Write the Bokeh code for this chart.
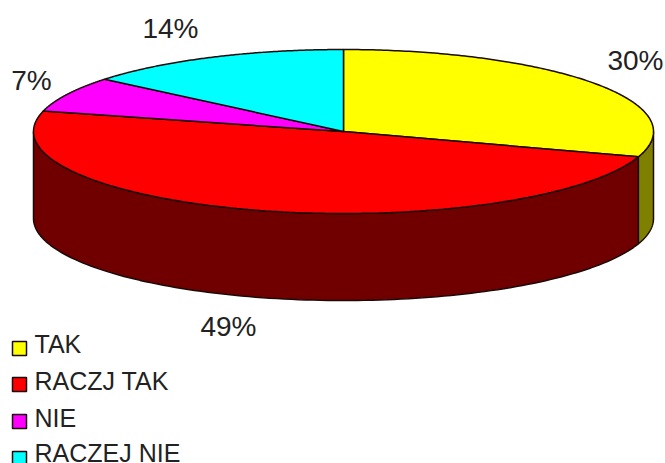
import numpy as np
from bokeh.plotting import figure
from bokeh.models import Range1d
from bokeh.core.properties import value
from bokeh.embed import file_html
from bokeh.resources import INLINE

categories = ["TAK", "RACZJ TAK", "NIE", "RACZEJ NIE"]
percents = [30, 49, 7, 14]
colors = ["#ffff00", "#ff0000", "#ff00ff", "#00ffff"]
wall_colors = ["#808000", "#700000", "#800080", "#008080"]
pct_labels = ["30%", "49%", "7%", "14%"]

p = figure(width=665, height=463, output_backend="svg", toolbar_location=None,
           x_range=Range1d(0, 665), y_range=Range1d(463, 0),
           min_border=0, outline_line_color=None)
p.axis.visible = False
p.grid.visible = False
p.background_fill_color = "white"

CX, CY, RX, RY, DEPTH = 343, 131, 310, 82, 87
ink = "#1a0a0a"

def ell(a, dy=0):
    a = np.radians(a)
    return CX + RX * np.sin(a), CY - RY * np.cos(a) + dy

cum = np.cumsum([0] + percents) * 3.6
for i in range(len(percents)):
    a0, a1 = max(cum[i], 90), min(cum[i + 1], 270)
    if a1 <= a0:
        continue
    t = np.linspace(a0, a1, 120)
    xt, yt = ell(t)
    xb, yb = ell(t[::-1], DEPTH)
    p.patch(np.r_[xt, xb], np.r_[yt, yb], fill_color=wall_colors[i],
            line_color=ink, line_width=1.5)
for i in range(len(percents)):
    t = np.linspace(cum[i], cum[i + 1], 160)
    x, y = ell(t)
    p.patch(np.r_[CX, x], np.r_[CY, y], fill_color=colors[i],
            line_color=ink, line_width=1.5)

lab_x = [635, 228, 31, 170]
lab_y = [60, 326, 80, 28]
p.text(lab_x, lab_y, text=pct_labels, text_font=value("Liberation Sans"),
       text_font_size="28px", text_color="#222222", text_align="center",
       text_baseline="alphabetic")

box_y = [348, 384, 421, 458]
leg_y = [343, 380, 417, 452]
p.scatter([19] * 4, box_y, marker="square", size=14,
          fill_color=colors, line_color=ink, line_width=1.5)
p.text([34] * 4, leg_y, text=categories, text_font=value("Liberation Sans"),
       text_font_size="25px", text_color="#222222", text_baseline="alphabetic")

open("out.html", "w").write(file_html(p, INLINE))
